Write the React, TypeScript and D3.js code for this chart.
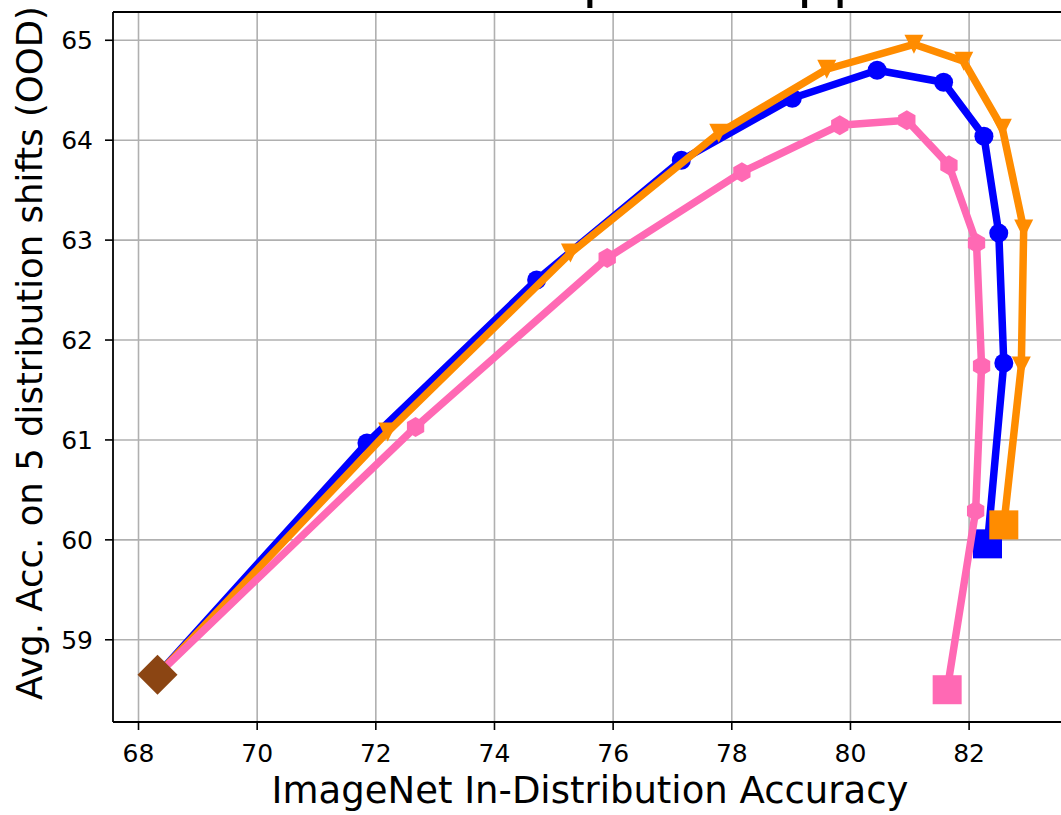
import React from 'react'
import * as d3 from 'd3'

// start point shared by all three curves
const startX = 68.32
const startY = 58.65

const blueX = [71.85, 74.71, 77.15, 79.02, 80.45, 81.57, 82.25, 82.50, 82.585]
const blueY = [60.97, 62.60, 63.80, 64.42, 64.70, 64.58, 64.04, 63.07, 61.77]
const blueEnd = [82.31, 59.96]

const orangeX = [72.2, 75.28, 77.78, 79.6, 81.07, 81.91, 82.56, 82.92, 82.88]
const orangeY = [61.08, 62.87, 64.07, 64.71, 64.96, 64.79, 64.12, 63.11, 61.74]
const orangeEnd = [82.585, 60.15]

const pinkX = [72.67, 75.9, 78.17, 79.82, 80.95, 81.66, 82.125, 82.21, 82.11]
const pinkY = [61.13, 62.82, 63.68, 64.15, 64.2, 63.75, 62.97, 61.74, 60.29]
const pinkEnd = [81.63, 58.5]

const xTicks = [68, 70, 72, 74, 76, 78, 80, 82]
const yTicks = [59, 60, 61, 62, 63, 64, 65]

const W = 1061
const H = 815
const left = 113
const right = 1067
const top = 12
const bottom = 722

const font = 'DejaVu Sans, sans-serif'

const App = () => {
  const scaleX = d3.scaleLinear().domain([67.57, 83.65]).range([left, right])
  const scaleY = d3.scaleLinear().domain([58.177, 65.283]).range([bottom, top])

  const lineMaker = d3
    .line<number[]>()
    .x((d) => scaleX(d[0]))
    .y((d) => scaleY(d[1]))

  const makePts = (xs: number[], ys: number[], end: number[]) => [
    [startX, startY],
    ...xs.map((x, i) => [x, ys[i]]),
    end,
  ]

  const hexPath = (r: number) => {
    const pts = d3.range(6).map((i) => {
      const a = (Math.PI / 3) * i - Math.PI / 2
      return [r * Math.cos(a), r * Math.sin(a)]
    })
    return 'M' + pts.map((p) => p.join(',')).join('L') + 'Z'
  }

  const tri = 9.5
  const triPath = `M${-tri},${-tri}L${tri},${-tri}L0,${tri}Z`
  const sq = 14.5

  const series = [
    { color: '#0000ff', xs: blueX, ys: blueY, end: blueEnd, marker: 'circle' },
    { color: '#ff8c00', xs: orangeX, ys: orangeY, end: orangeEnd, marker: 'tri' },
    { color: '#ff69b4', xs: pinkX, ys: pinkY, end: pinkEnd, marker: 'hex' },
  ]

  return (
    <svg width={W} height={H} style={{ position: 'absolute', left: 0, top: 0 }} fontFamily={font}>
      <rect width={W} height={H} fill="white" />
      {/* title, mostly above the cropped picture */}
      <text x={291} y={-4} fontSize={56} fill="black">Model Soups vs. approach</text>

      {/* grid */}
      <g stroke="#b0b0b0" strokeWidth={1.6}>
        {xTicks.map((t) => (
          <line key={'gx' + t} x1={scaleX(t)} x2={scaleX(t)} y1={top} y2={bottom} />
        ))}
        {yTicks.map((t) => (
          <line key={'gy' + t} x1={left} x2={right} y1={scaleY(t)} y2={scaleY(t)} />
        ))}
      </g>

      {series.map((s) => {
        const pts = makePts(s.xs, s.ys, s.end)
        return (
          <g key={s.color}>
            <path d={lineMaker(pts) || ''} fill="none" stroke={s.color} strokeWidth={7.5} strokeLinejoin="round" />
            {s.xs.map((x, i) => {
              const cx = scaleX(x)
              const cy = scaleY(s.ys[i])
              if (s.marker === 'circle') return <circle key={i} cx={cx} cy={cy} r={9.5} fill={s.color} />
              if (s.marker === 'tri') return <path key={i} d={triPath} transform={`translate(${cx},${cy})`} fill={s.color} />
              return <path key={i} d={hexPath(10)} transform={`translate(${cx},${cy})`} fill={s.color} />
            })}
            <rect
              x={scaleX(s.end[0]) - sq}
              y={scaleY(s.end[1]) - sq}
              width={sq * 2}
              height={sq * 2}
              fill={s.color}
            />
          </g>
        )
      })}

      {/* start diamond */}
      <path
        d="M0,-20L20,0L0,20L-20,0Z"
        transform={`translate(${scaleX(startX)},${scaleY(startY)})`}
        fill="#8b4513"
      />

      {/* spines */}
      <g stroke="black" strokeWidth={1.8} fill="none">
        <line x1={left} x2={left} y1={top} y2={bottom} />
        <line x1={left} x2={W} y1={top} y2={top} />
        <line x1={left} x2={W} y1={bottom} y2={bottom} />
      </g>

      {/* x ticks */}
      {xTicks.map((t) => (
        <g key={'xt' + t} transform={`translate(${scaleX(t)},${bottom})`}>
          <line y1={0} y2={8} stroke="black" strokeWidth={1.6} />
          <text y={40} textAnchor="middle" fontSize={25} fill="black">{t}</text>
        </g>
      ))}
      {/* y ticks */}
      {yTicks.map((t) => (
        <g key={'yt' + t} transform={`translate(${left},${scaleY(t)})`}>
          <line x1={0} x2={-8} stroke="black" strokeWidth={1.6} />
          <text x={-20} y={9} textAnchor="end" fontSize={25} fill="black">{t}</text>
        </g>
      ))}

      <text x={590} y={803} textAnchor="middle" fontSize={37} fill="black">
        ImageNet In-Distribution Accuracy
      </text>
      <text
        transform={`translate(42,353) rotate(-90)`}
        textAnchor="middle"
        fontSize={35.5}
        fill="black"
      >
        Avg. Acc. on 5 distribution shifts (OOD)
      </text>
    </svg>
  )
}

export default App
